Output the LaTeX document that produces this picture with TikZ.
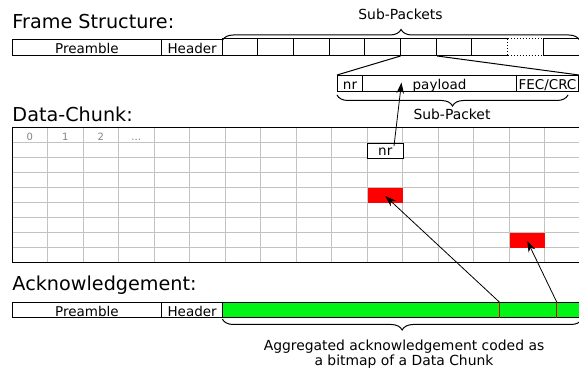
\documentclass[tikz,border=0pt]{standalone}
\usepackage{fontspec}
\setmainfont{DejaVu Sans}
\usetikzlibrary{decorations.pathreplacing, arrows.meta, calc}

\definecolor{ackgreen}{RGB}{0,245,20}
\definecolor{gridgray}{RGB}{195,195,195}
\definecolor{idxgray}{RGB}{130,130,130}

\begin{document}
\begin{tikzpicture}[x=1pt, y=-1pt,
  line width=1pt,
  heading/.style={anchor=base west, inner sep=0pt, font=\fontsize{19.2}{21}\selectfont},
  lab/.style={inner sep=0pt, font=\fontsize{13.9}{15}\selectfont},
  field/.style={draw, anchor=north west, inner sep=0pt, minimum height=16pt,
    text height=12pt, text depth=0pt, font=\fontsize{13.5}{15}\selectfont},
  cell/.style={anchor=north west, inner sep=0pt, minimum height=16pt, minimum width=35.65pt},
  gridline/.style={gridgray, line width=1pt},
  idx/.style={anchor=base, inner sep=0pt, text=idxgray, font=\fontsize{10}{12}\selectfont},
  chunkcell/.style={anchor=north west, inner sep=0pt, minimum width=35.5pt, minimum height=15pt},
  bracedeco/.style={decorate, decoration={brace, amplitude=11pt}},
  arr/.style={-{Stealth[length=11pt, width=7.5pt]}, line width=0.8pt},
]
\useasboundingbox (0,0) rectangle (579,371);
\clip (0,0) rectangle (579,371);
\fill[white] (0,0) rectangle (579,371);

% ---------- Frame structure ----------
\node[heading] (tframe) at (12,29) {Frame Structure:};
\node[field, minimum width=149pt] (fpre) at (12,39) {Preamble};
\node[field, minimum width=61.3pt] (fhdr) at (161,39) {Header};
\foreach \i in {0,...,9}
  \node[cell] (sp\i) at (222.3+\i*35.65,39) {};
\draw (sp0.north west) -- (sp7.north east) (sp0.south west) -- (sp7.south east);
\foreach \i in {1,...,7}
  \draw (sp\i.north west) -- (sp\i.south west);
\draw (sp9.north west) rectangle (sp9.south east);
\draw[dotted] (sp8.north west) -- (sp8.north east)
              (sp8.south west) -- (sp8.south east)
              (sp8.north west) -- (sp8.south west);

\draw[bracedeco] ([yshift=-1.5pt]sp0.north west) -- ([yshift=-1.5pt]sp9.north east);
\node[lab, anchor=base] (lsubs) at (400.5,20) {Sub-Packets};

% sub-packet detail
\node[field, minimum width=25pt] (snr) at (337,75) {nr};
\node[field, minimum width=154pt] (spay) at (362,75) {payload};
\node[field, minimum width=62pt] (sfec) at (516,75) {FEC/CRC};
\draw (sp5.south west) -- (snr.north west);
\draw (sp5.south east) -- (sfec.north east);

\draw[bracedeco] (568,95) -- (337,95);
\node[lab, anchor=base] (lsub) at (452,119.5) {Sub-Packet};

% ---------- Data chunk ----------
\node[heading] (tchunk) at (12,121.7) {Data-Chunk:};
\foreach \k in {1,...,15}
  \draw[gridline] (12+\k*35.5,128) -- (12+\k*35.5,263);
\foreach \r in {1,...,8}
  \draw[gridline] (12,128+\r*15) -- (582,128+\r*15);
\draw (582,128) -- (12,128) -- (12,263) -- (582,263);
\node[idx] (c0) at (29.75,140.5) {0};
\node[idx] (c1) at (65.25,140.5) {1};
\node[idx] (c2) at (100.75,140.5) {2};
\node[idx] (c3) at (136.25,140.5) {...};

\node[chunkcell, draw, fill=white, text height=10pt, text depth=0pt,
      font=\fontsize{13.5}{15}\selectfont] (gnr) at (367,143) {nr};
\node[chunkcell, fill=red] (red1) at (367,188) {};
\node[chunkcell, fill=red] (red2) at (509,233) {};

\draw[arr] ($(gnr.north west)+(27,3)$) -- ($(spay.north west)+(39.5,7.5)$);

% ---------- Acknowledgement ----------
\node[heading] (tack) at (12,291) {Acknowledgement:};
\node[field, minimum width=149pt, minimum height=15.5pt] (apre) at (12,302) {Preamble};
\node[field, minimum width=61.3pt, minimum height=15.5pt] (ahdr) at (161,302) {Header};
\node[field, fill=ackgreen, minimum width=356.5pt, minimum height=15.5pt] (abits) at (222.3,302) {};
\coordinate (ackA) at ($(abits.north west)+(277,0)$);
\coordinate (ackB) at ($(abits.north west)+(334.4,0)$);
\draw[red!85!black, line width=1pt] (ackA) -- ($(abits.south west)+(277,0)$);
\draw[red!85!black, line width=1pt] (ackB) -- ($(abits.south west)+(334.4,0)$);
\draw[arr] (ackA) -- (red1.center);
\draw[arr] (ackB) -- (red2.center);

\draw[bracedeco] (582,319) -- (222.3,319);
\node[lab, align=center, anchor=north] (lack) at (404,339)
  {Aggregated acknowledgement coded as\\a bitmap of a Data Chunk};
\end{tikzpicture}
\end{document}
